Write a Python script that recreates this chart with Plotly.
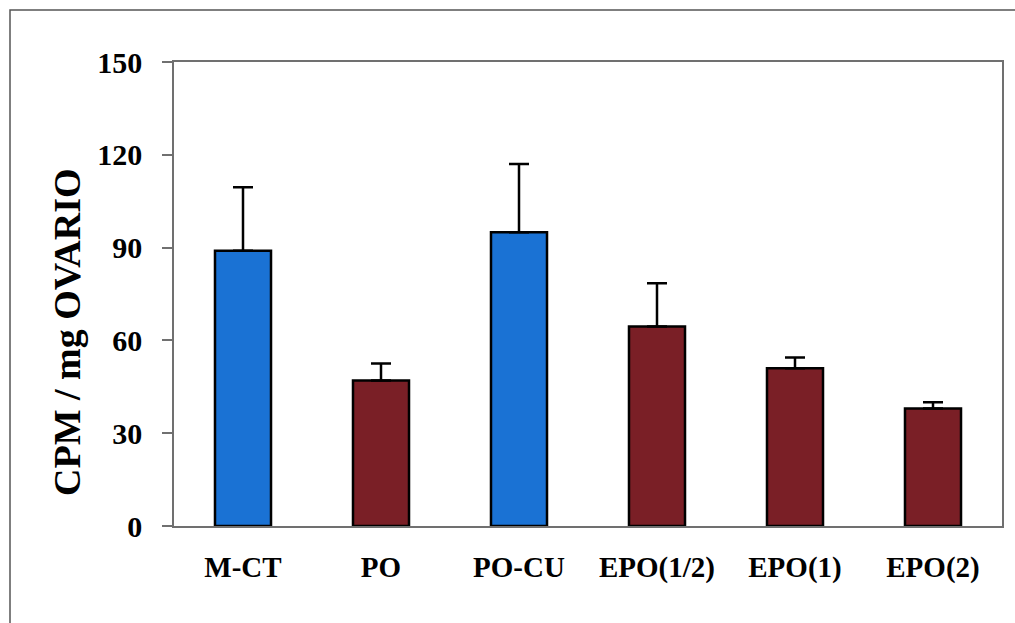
import plotly.graph_objects as go

categories = ["M-CT", "PO", "PO-CU", "EPO(1/2)", "EPO(1)", "EPO(2)"]
values = [89, 47, 95, 64.5, 51, 38]
errors = [20.5, 5.5, 22, 14, 3.5, 2]
colors = ["#1a72d4", "#7a1f26", "#1a72d4", "#7a1f26", "#7a1f26", "#7a1f26"]
y_ticks = [0, 30, 60, 90, 120, 150]

W, H = 1015, 623
L, R, T, B = 174, 13, 62, 97

fig = go.Figure(go.Bar(
    x=categories, y=values,
    marker=dict(color=colors, line=dict(color="black", width=2.5)),
    error_y=dict(type="data", array=errors, arrayminus=[0]*len(errors),
                 symmetric=False, color="black", thickness=2.5, width=10),
))

font = dict(family="Liberation Serif, Times New Roman, serif", color="black", weight="bold")

fig.update_layout(
    width=W, height=H, autosize=False,
    margin=dict(l=L, r=R, t=T, b=B, pad=0),
    paper_bgcolor="white", plot_bgcolor="white",
    bargap=0.594, showlegend=False,
    font=font,
)
fig.update_xaxes(
    showline=True, linecolor="#707070", linewidth=1.5, mirror=True,
    ticks="", showgrid=False, tickfont=dict(size=29, **font),
    ticklabelstandoff=14,
)
fig.update_yaxes(
    range=[0, 150], tickvals=y_ticks, ticktext=[str(v) for v in y_ticks],
    showline=True, linecolor="#707070", linewidth=1.5, mirror=True,
    ticks="outside", ticklen=10, tickcolor="#707070", tickwidth=1.5,
    showgrid=False, zeroline=False, tickfont=dict(size=30, **font),
    ticklabelstandoff=14,
)
pw = W - L - R
ph = H - T - B
fig.add_annotation(
    text="CPM / mg OVARIO", textangle=-90, showarrow=False,
    xref="paper", yref="paper",
    x=(67 - L) / pw, y=(H - B - 332) / ph,
    xanchor="center", yanchor="middle",
    font=dict(size=38, **font),
)
fig.add_shape(
    type="rect", xref="paper", yref="paper",
    x0=(10 - L) / pw, x1=1.2, y0=-0.5, y1=(H - B - 10) / ph,
    line=dict(color="#555555", width=1.5), layer="below",
)
fig.write_html("out.html")
